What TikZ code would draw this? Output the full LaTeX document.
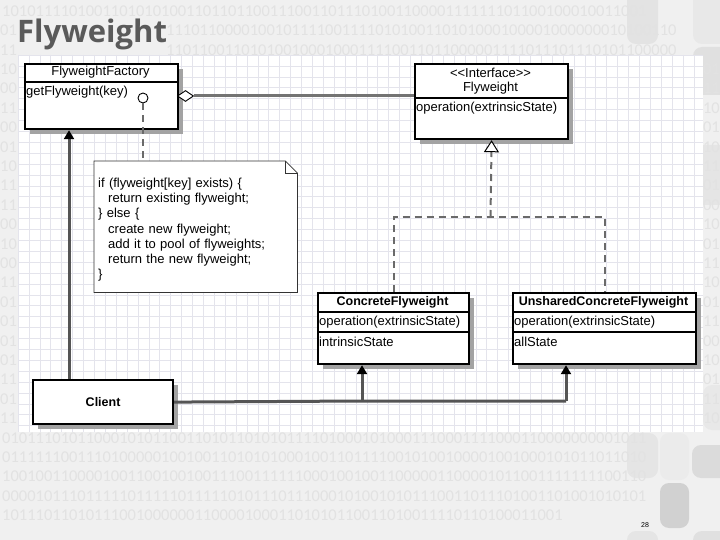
\documentclass[tikz,border=0pt]{standalone}
\usepackage{fontspec}
\setmainfont{Liberation Sans}
\newfontfamily\titlefont{Open Sans}
\newfontfamily\binfont{Carlito}
\usetikzlibrary{shapes.geometric,arrows.meta,shadows}
\definecolor{slidebg}{HTML}{F0F0F0}
\definecolor{bincol}{HTML}{E2E2E2}
\definecolor{gridc}{HTML}{E4E4EC}
\definecolor{titlec}{HTML}{5A5A5A}
\definecolor{assocc}{HTML}{555555}
\definecolor{dashc}{HTML}{6A6A6A}
\tikzset{
  cls/.style={draw=black, line width=2.2pt, fill=white, anchor=north west, inner sep=0pt,
    drop shadow={shadow xshift=5pt, shadow yshift=-5pt, fill=black!36, opacity=1}},
  divider/.style={draw=black, line width=1.5pt},
  lbl/.style={inner sep=0pt, font=\fontsize{13}{15}\selectfont},
  blbl/.style={inner sep=0pt, font=\fontsize{12.5}{15}\selectfont\bfseries},
  item/.style={lbl, anchor=west},
  bin/.style={anchor=west, inner sep=0pt, text=bincol, font=\binfont\fontsize{16.5}{19}\selectfont},
  deco/.style={rounded corners=9pt},
  assoc/.style={draw=assocc, line width=3pt},
  filledtip/.style={-{Triangle[width=10pt,length=9pt,color=black]}},
  dashline/.style={draw=dashc, line width=2pt, dash pattern=on 7pt off 5pt},
}
\begin{document}
\begin{tikzpicture}[x=1pt,y=-1pt]
\useasboundingbox (0,0) rectangle (720,540);
\fill[slidebg] (0,0) rectangle (720,540);
\begin{scope}
\clip (0,0) rectangle (720,540);
% decorative rounded blocks
\fill[deco, fill=black!11] (627,-12) rectangle (658,44);
\fill[deco, fill=black!9] (693,-12) rectangle (735,44);
\fill[deco, fill=black!12] (693,47) rectangle (735,95);
\fill[deco, fill=black!10] (695,145) rectangle (735,205);
\fill[deco, fill=black!9] (703,385) rectangle (735,430);
\fill[deco, fill=black!10] (627,433) rectangle (658,478);
\fill[deco, fill=black!8] (660,433) rectangle (689,480);
\fill[deco, fill=black!14] (692,445) rectangle (735,478);
\fill[deco, fill=black!18] (660,483) rectangle (689,528);
\fill[deco, fill=black!10] (627,531) rectangle (658,560);
\fill[deco, fill=black!12] (693,531) rectangle (735,560);
\end{scope}
% binary background: rows above the canvas
\node[bin] (top0) at (2, 11) {10101111010011010101001101101100111001101110100110000111111101100100010011001};
\node[bin] (top1l) at (0, 30.4) {01};
\node[bin] (top1r) at (166, 30.4) {1110110000100101111001111010100110101000100001000000010100110};
\node[bin] (top2l) at (0, 49.8) {11};
\node[bin] (top2r) at (166, 49.8) {1101100110101001000100011110011011000001111011101110101100000};
% rows below the canvas
\foreach \s [count=\i from 22] in {
01011101011000101011001101011010101111010001010001110001111000110000000001011,
01111110011101000001001001101010100010011011110010100100001001000101011011010,
10010011000010011001001001110011111100010010011000001100001011001111111100110,
00001011101111101111101111101011101110001010010101110011011101001101001010101,
1011101101011100100000011000010001101010110011010011110110100011001}
  \node[bin] (bot\i) at (2, 11+19.4*\i) {\s};
% side digits beside the canvas
\foreach \l/\r [count=\i from 3] in {10/01,00/11,11/10,00/01,01/10,10/11,11/01,11/00,00/10,10/01,00/11,11/10,01/01,01/11,01/00,01/10,11/01,01/11,11/10}
{
  \node[bin] (left\i) at (0, 11+19.4*\i) {\l};
  \node[bin, anchor=east] (right\i) at (720, 11+19.4*\i) {\r};
}
% drawing canvas with grid
\fill[white] (18,55) rectangle (703,432);
\foreach \k in {0,...,62} \draw[gridc, line width=0.5pt] (18+10.9*\k,55) -- (18+10.9*\k,432);
\foreach \k in {0,...,34} \draw[gridc, line width=0.5pt] (18,55+10.9*\k) -- (703,55+10.9*\k);
% title
\node[anchor=base west, inner sep=0pt, text=titlec, font=\titlefont\fontsize{31}{34}\selectfont\bfseries] (title) at (17,43) {Flyweight};

% FlyweightFactory
\node[cls, minimum width=153pt, minimum height=65pt] (factory) at (24,63) {};
\draw[divider] (24,82) -- (177,82);
\node[lbl] (factoryname) at (100.5,72.5) {FlyweightFactory};
\node[item] (getfw) at (26,92.5) {getFlyweight(key)};
\node[circle, draw=black, line width=0.9pt, fill=white, minimum size=10pt, inner sep=0pt] (lolli) at (143,98) {};

% Interface Flyweight
\node[cls, minimum width=153pt, minimum height=75pt] (iface) at (414,63) {};
\draw[divider] (414,98) -- (567,98);
\node[lbl] (stereo) at (490.5,73) {<\kern0pt<Interface>\kern0pt>};
\node[lbl] (ifacename) at (490.5,88) {Flyweight};
\node[item] (ifaceop) at (416,108) {operation(extrinsicState)};

% ConcreteFlyweight
\node[cls, minimum width=151pt, minimum height=71pt] (concrete) at (317,292) {};
\draw[divider] (317,312) -- (468,312);
\draw[divider] (317,332) -- (468,332);
\node[blbl] (concretename) at (392.5,302) {ConcreteFlyweight};
\node[item] (concreteop) at (319,322) {operation(extrinsicState)};
\node[item] (concretest) at (319,341.5) {intrinsicState};

% UnsharedConcreteFlyweight
\node[cls, minimum width=183pt, minimum height=71pt] (unshared) at (512,292) {};
\draw[divider] (512,312) -- (695,312);
\draw[divider] (512,332) -- (695,332);
\node[blbl] (unsharedname) at (603.5,302) {UnsharedConcreteFlyweight};
\node[item] (unsharedop) at (514,322) {operation(extrinsicState)};
\node[item] (unsharedst) at (514,341.5) {allState};

% Client
\node[cls, minimum width=140pt, minimum height=44pt, font=\fontsize{12.5}{15}\selectfont\bfseries] (client) at (32,379) {Client};

% Note
\node[anchor=north west, minimum width=203pt, minimum height=131pt, inner sep=0pt] (note) at (94,161) {};
\fill[white] (note.north west) -- ([xshift=-12pt]note.north east) -- ([yshift=-12pt]note.north east) -- (note.south east) -- (note.south west) -- cycle;
\draw[black!80, line width=0.8pt] (note.north west) -- ([xshift=-12pt]note.north east) -- ([yshift=-12pt]note.north east) -- (note.south east) -- (note.south west) -- cycle;
\draw[black!80, line width=0.8pt] ([xshift=-12pt]note.north east) -- ([xshift=-12pt,yshift=-12pt]note.north east) -- ([yshift=-12pt]note.north east);
\node[inner xsep=4pt, inner ysep=0pt, text width=195pt, align=left, yshift=-3pt, font=\fontsize{13}{15.2}\selectfont] (notetext) at (note.center) {%
if (flyweight[key] exists) \{\\
\hspace*{10pt}return existing flyweight;\\
\} else \{\\
\hspace*{10pt}create new flyweight;\\
\hspace*{10pt}add it to pool of flyweights;\\
\hspace*{10pt}return the new flyweight;\\
\}};

% connectors
\draw[dashline] (lolli.south) -- (lolli |- note.north);
\node[diamond, draw=black, line width=0.9pt, fill=white, minimum width=16pt, minimum height=11pt, inner sep=0pt] (diam) at (185.5,96) {};
\draw[draw=black!55, line width=3pt] (diam.east) -- (diam.east -| iface.west);

\coordinate (j) at (490.5,217);
\draw[dashline] (concrete.north) |- (j) -| (unshared.north);
\draw[dashline, -{Triangle[open, fill=white, width=15pt, length=12pt, line width=1pt, color=black]}] (j) -- (iface.south);

\coordinate (k1) at (362,401);
\coordinate (k2) at (566,401);
\coordinate (k0) at (69,379);
\draw[assoc, filledtip] (k0) -- (k0 |- factory.south);
\draw[assoc] (client.east) -- (k1) -- (k2);
\draw[assoc, filledtip] (k1) -- (k1 |- concrete.south);
\draw[assoc, filledtip] (k2) -- (k2 |- unshared.south);

% page number
\node[inner sep=0pt, font=\fontsize{7}{8}\selectfont] (page) at (645,525) {28};
\end{tikzpicture}
\end{document}
